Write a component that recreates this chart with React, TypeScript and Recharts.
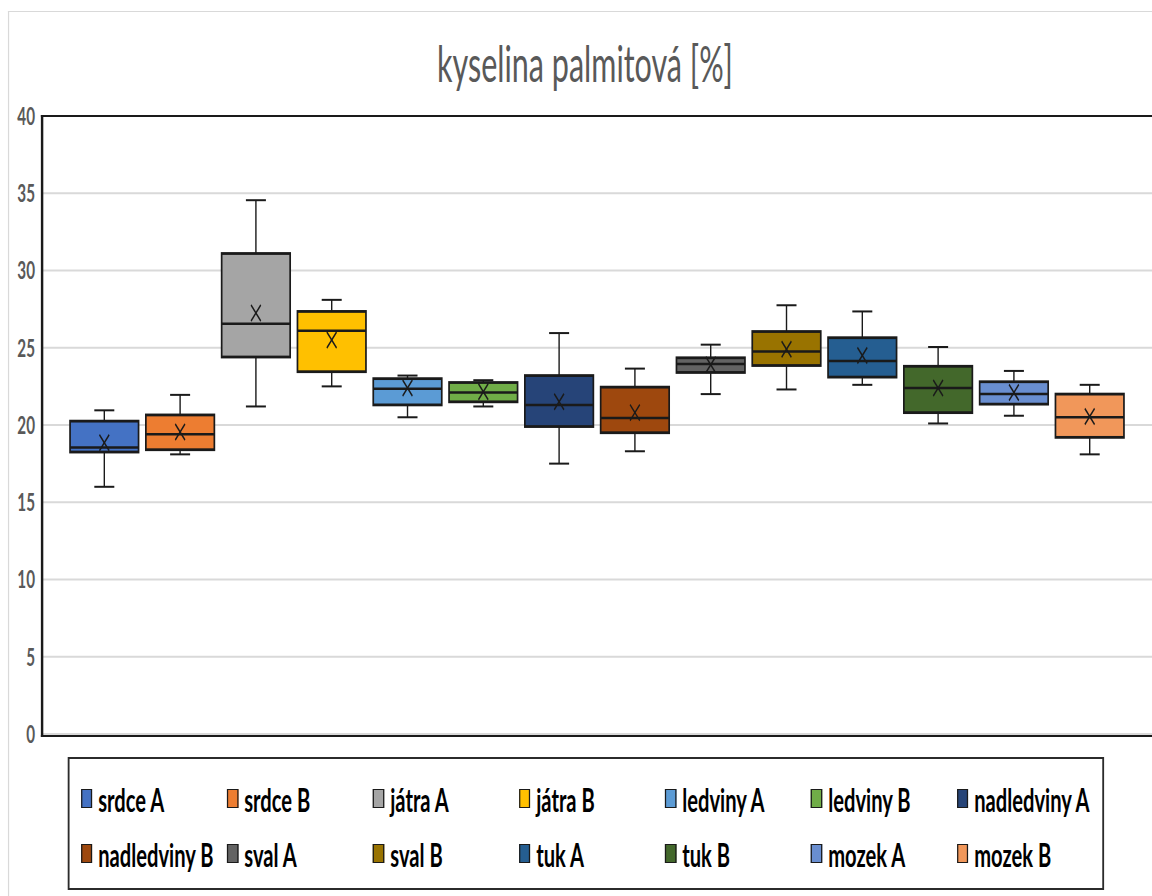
import React from 'react';
import { ComposedChart, Bar, XAxis, YAxis, CartesianGrid } from 'recharts';

// Everything is laid out wide and then squeezed horizontally, so the
// narrow lettering and tall "X" markers come out right.
const SQUEEZE = 0.61;
const px = (v: number) => v / SQUEEZE;

const FONT = 'Lato, "Open Sans", "Liberation Sans", sans-serif';

const categories = [
  'srdce A', 'srdce B', 'játra A', 'játra B', 'ledviny A', 'ledviny B', 'nadledviny A',
  'nadledviny B', 'sval A', 'sval B', 'tuk A', 'tuk B', 'mozek A', 'mozek B',
];
const colors = [
  '#4472C4', '#ED7D31', '#A5A5A5', '#FFC000', '#5B9BD5', '#70AD47', '#264478',
  '#9E480E', '#636363', '#997300', '#255E91', '#43682B', '#698ED0', '#F1975A',
];
const mins = [16.0, 18.1, 21.2, 22.5, 20.5, 21.2, 17.5, 18.3, 22.0, 22.3, 22.6, 20.1, 20.6, 18.1];
const q1s = [18.25, 18.4, 24.4, 23.45, 21.3, 21.5, 19.9, 19.5, 23.4, 23.85, 23.1, 20.8, 21.35, 19.2];
const medians = [18.55, 19.4, 26.55, 26.1, 22.35, 22.1, 21.3, 20.45, 23.95, 24.75, 24.15, 22.4, 22.0, 20.5];
const q3s = [20.25, 20.65, 31.1, 27.35, 23.0, 22.75, 23.2, 22.45, 24.35, 26.05, 25.65, 23.8, 22.8, 22.0];
const maxs = [20.95, 21.95, 34.55, 28.1, 23.2, 22.9, 25.95, 23.65, 25.2, 27.75, 27.35, 25.05, 23.5, 22.6];
const means = [18.85, 19.55, 27.25, 25.5, 22.4, 22.15, 21.5, 20.8, 23.9, 24.9, 24.5, 22.4, 22.1, 20.55];
const yTicks = [0, 5, 10, 15, 20, 25, 30, 35, 40];

const data = categories.map((name, i) => ({
  name,
  color: colors[i],
  low: mins[i],
  q1: q1s[i],
  median: medians[i],
  q3: q3s[i],
  high: maxs[i],
  mean: means[i],
}));

const INK = '#1a1a1a';
const PLOT_TOP = 116;
const PLOT_BOTTOM = 734;

// The bar spans min..max; the rest of the box is placed inside that span.
function BoxShape(props: any) {
  const { x, y, width, height, payload } = props;
  if (!payload || height == null) return null;
  const toY = (v: number) => y + ((payload.high - v) / (payload.high - payload.low)) * height;
  const cx = x + width / 2;
  const capHalf = px(10);
  const yMax = toY(payload.high);
  const yMin = toY(payload.low);
  const yQ3 = toY(payload.q3);
  const yQ1 = toY(payload.q1);
  const yMed = toY(payload.median);
  const yMean = toY(payload.mean);
  const mark = 8;
  return (
    <g>
      <line x1={cx} x2={cx} y1={yMax} y2={yQ3} stroke={INK} strokeWidth={px(1.4)} />
      <line x1={cx} x2={cx} y1={yQ1} y2={yMin} stroke={INK} strokeWidth={px(1.4)} />
      <line x1={cx - capHalf} x2={cx + capHalf} y1={yMax} y2={yMax} stroke={INK} strokeWidth={2} />
      <line x1={cx - capHalf} x2={cx + capHalf} y1={yMin} y2={yMin} stroke={INK} strokeWidth={2} />
      <rect x={x} y={yQ3} width={width} height={yQ1 - yQ3} fill={payload.color} stroke={INK} strokeWidth={2.8} />
      <line x1={x} x2={x + width} y1={yMed} y2={yMed} stroke={INK} strokeWidth={2.5} />
      <line x1={cx - mark} x2={cx + mark} y1={yMean - mark} y2={yMean + mark} stroke={INK} strokeWidth={2} />
      <line x1={cx - mark} x2={cx + mark} y1={yMean + mark} y2={yMean - mark} stroke={INK} strokeWidth={2} />
    </g>
  );
}

function LegendBox() {
  return (
    <div
      style={{
        position: 'absolute',
        left: px(68),
        top: 757,
        width: px(1036),
        height: 133,
        boxSizing: 'border-box',
        borderStyle: 'solid',
        borderColor: '#2b2b2b',
        borderWidth: `2px ${px(2)}px`,
        display: 'grid',
        gridTemplateColumns: `repeat(7, ${px(146)}px)`,
        gridAutoRows: '55px',
        paddingLeft: px(11),
        paddingTop: 12,
      }}
    >
      {categories.map((name, i) => (
        <div key={name} style={{ display: 'flex', alignItems: 'center', whiteSpace: 'nowrap' }}>
          <span
            style={{
              display: 'inline-block',
              width: px(9),
              height: 17,
              background: colors[i],
              border: `1.5px solid ${INK}`,
              borderLeftWidth: px(1.5),
              borderRightWidth: px(1.5),
              marginRight: px(6),
            }}
          />
          <span style={{ fontSize: 33, fontWeight: 700, color: '#000' }}>{name}</span>
        </div>
      ))}
    </div>
  );
}

export default function App() {
  return (
    <div
      style={{
        position: 'fixed',
        left: 0,
        top: 0,
        width: 1152,
        height: 896,
        overflow: 'hidden',
        background: '#fff',
        fontFamily: FONT,
      }}
    >
      <div
        style={{
          position: 'relative',
          width: px(1220),
          height: 896,
          transform: `scale(${SQUEEZE}, 1)`,
          transformOrigin: '0 0',
        }}
      >
        {/* chart area frame */}
        <div
          style={{
            position: 'absolute',
            left: px(8),
            top: 11,
            width: px(1200),
            height: 900,
            borderTop: '1.5px solid #d9d9d9',
            borderLeft: `${px(1.5)}px solid #d9d9d9`,
          }}
        />
        <div
          style={{
            position: 'absolute',
            left: 0,
            top: 38,
            width: px(1170),
            textAlign: 'center',
            fontSize: 50,
            lineHeight: '50px',
            color: '#595959',
          }}
        >
          kyselina palmitová [%]
        </div>
        <div style={{ position: 'absolute', left: 0, top: 0 }}>
          <ComposedChart
            width={px(1220)}
            height={896}
            data={data}
            margin={{ top: PLOT_TOP, right: px(8), bottom: 896 - PLOT_BOTTOM, left: 0 }}
          >
            <CartesianGrid vertical={false} stroke="#d9d9d9" strokeWidth={2} />
            <XAxis
              dataKey="name"
              type="category"
              tick={false}
              tickLine={false}
              axisLine={false}
              height={0}
              padding={{ left: px(24.4), right: px(84.4) }}
            />
            <YAxis
              type="number"
              domain={[0, 40]}
              ticks={yTicks}
              width={px(42)}
              tickSize={0}
              tickMargin={px(7)}
              tickLine={false}
              axisLine={false}
              tick={{ fill: '#595959', fontSize: 25, fontWeight: 700, fontFamily: FONT }}
            />
            <Bar
              dataKey={(d: any) => [d.low, d.high]}
              barSize={px(68.5)}
              shape={BoxShape}
              isAnimationActive={false}
            />
          </ComposedChart>
        </div>
        {/* plot area border: open on the right, where the page cuts it off */}
        <div
          style={{
            position: 'absolute',
            left: px(42) - px(1.2),
            top: PLOT_TOP - 1.25,
            width: px(1300),
            height: PLOT_BOTTOM - PLOT_TOP,
            borderTop: `2.5px solid ${INK}`,
            borderBottom: `2.5px solid ${INK}`,
            borderLeft: `${px(2.5)}px solid ${INK}`,
            pointerEvents: 'none',
          }}
        />
        <LegendBox />
      </div>
    </div>
  );
}
